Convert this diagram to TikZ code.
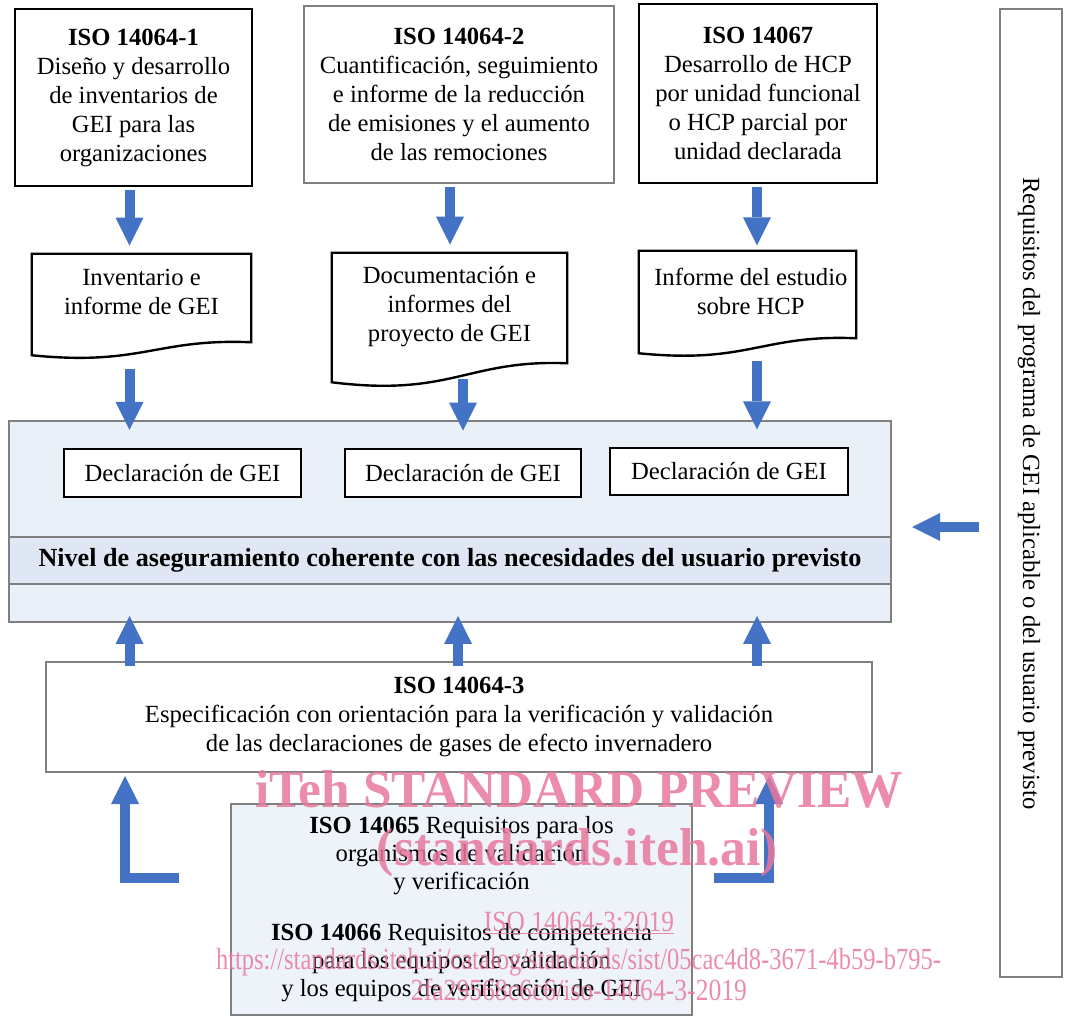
\documentclass[tikz,border=0pt]{standalone}
\usepackage{fontspec}
\setmainfont{Liberation Serif}
\usetikzlibrary{arrows.meta,calc}
\definecolor{arrowblue}{HTML}{4472C4}
\definecolor{boxgray}{HTML}{808080}
\definecolor{bigfill}{HTML}{E9F0F8}
\definecolor{bandfill}{HTML}{DEE7F3}
\definecolor{botfill}{HTML}{EEF3FA}
\definecolor{wmpink}{HTML}{E8789D}
\pgfdeclarelayer{background}
\pgfsetlayers{background,main}
\begin{document}
\begin{tikzpicture}[x=0.75pt,y=-0.75pt,
  font=\fontsize{18.5}{21.75}\selectfont,
  blackbox/.style={draw=black, line width=1.8pt, fill=white, align=center, inner sep=0pt},
  graybox/.style={draw=boxgray, line width=1.5pt, fill=white, align=center, inner sep=0pt},
  docbox/.style={align=center, inner sep=0pt},
  docline/.style={draw=black, line width=1.8pt, fill=white},
  blockarrow/.style={draw=arrowblue, line width=7.5pt, line join=miter,
    -{Triangle[width=21pt,length=21pt,line width=0pt]}},
  wm/.style={text=wmpink, opacity=0.85, inner sep=0pt},
]
\useasboundingbox (0,0) rectangle (1065,1023);

% ---- arrow x positions
\coordinate (xa) at (129.5,0);
\coordinate (xb) at (450,0);
\coordinate (xbb) at (463,0);
\coordinate (xbc) at (458,0);
\coordinate (xc) at (757,0);
\coordinate (ay) at (0,527);

% ---- top boxes
\node[blackbox, minimum width=237*0.75pt, minimum height=177*0.75pt] (b1) at (133.5,97.5)
  {\textbf{ISO 14064-1}\\Diseño y desarrollo\\de inventarios de\\GEI para las\\organizaciones};
\node[graybox, minimum width=310*0.75pt, minimum height=177*0.75pt] (b2) at (459,94.5)
  {\textbf{ISO 14064-2}\\Cuantificación, seguimiento\\e informe de la reducción\\de emisiones y el aumento\\de las remociones};
\node[blackbox, minimum width=238*0.75pt, minimum height=179*0.75pt] (b3) at (758,93.5)
  {\textbf{ISO 14067}\\Desarrollo de HCP\\por unidad funcional\\o HCP parcial por\\unidad declarada};

% ---- right tall box
\node[graybox, minimum width=62*0.75pt, minimum height=968*0.75pt] (rb) at (1031,493) {};
\node[rotate=-90, inner sep=0pt] (rbt) at (1029,493.5)
  {Requisitos del programa de GEI aplicable o del usuario previsto};

% ---- documents (text nodes; outlines drawn on background layer)
\node[docbox, minimum width=219*0.75pt, minimum height=75*0.75pt] (d1) at (141.5,291.5)
  {Inventario e\\informe de GEI};
\node[docbox, minimum width=235*0.75pt, minimum height=107*0.75pt] (d2) at (449.5,306.5)
  {Documentación e\\informes del\\proyecto de GEI};
\node[docbox, minimum width=217*0.75pt, minimum height=80*0.75pt] (d3) at (747.5,291)
  {\hspace*{5pt}Informe del estudio\\\hspace*{5pt}sobre HCP};
\begin{pgfonlayer}{background}
\path[docline] (d1.north west) -- (d1.north east) -- ($(d1.south east)+(0,13)$)
  .. controls ($(d1.south east)+(-95,9)$) and ($(d1.south west)+(110,37)$) .. ($(d1.south west)+(0,26)$) -- cycle;
\path[docline] (d2.north west) -- (d2.north east) -- ($(d2.south east)+(0,3)$)
  .. controls ($(d2.south east)+(-100,-1)$) and ($(d2.south west)+(120,37)$) .. ($(d2.south west)+(0,22)$) -- cycle;
\path[docline] (d3.north west) -- (d3.north east) -- ($(d3.south east)+(0,7)$)
  .. controls ($(d3.south east)+(-95,3)$) and ($(d3.south west)+(110,33)$) .. ($(d3.south west)+(0,22)$) -- cycle;
\end{pgfonlayer}

% ---- big box
\node[draw=boxgray, line width=1.5pt, fill=bigfill, minimum width=882*0.75pt, minimum height=201*0.75pt] (big) at (450,521.5) {};
\node[draw=boxgray, line width=1.5pt, fill=bandfill, minimum width=882*0.75pt, minimum height=47*0.75pt, font=\fontsize{19.6}{21.75}\selectfont\bfseries] (band) at (450,560.5)
  {Nivel de aseguramiento coherente con las necesidades del usuario previsto};
\node[blackbox, line width=1.6pt, minimum width=237*0.75pt, minimum height=48*0.75pt] (c1) at (182.5,473) {Declaración de GEI};
\node[blackbox, line width=1.6pt, minimum width=236*0.75pt, minimum height=48*0.75pt] (c2) at (463,473) {Declaración de GEI};
\node[blackbox, line width=1.6pt, minimum width=238*0.75pt, minimum height=47*0.75pt] (c3) at (729,471.5) {Declaración de GEI};

% ---- ISO 14064-3
\node[graybox, minimum width=826*0.75pt, minimum height=110*0.75pt] (b4) at (459,717)
  {\textbf{ISO 14064-3}\\Especificación con orientación para la verificación y validación\\de las declaraciones de gases de efecto invernadero};

% ---- bottom box
\node[draw=boxgray, line width=1.5pt, fill=botfill, align=center, inner sep=0pt,
  minimum width=461*0.75pt, minimum height=211*0.75pt, font=\fontsize{18.5}{21}\selectfont] (b5) at (461.5,909)
  {\textbf{ISO 14065} Requisitos para los\\organismos de validación\\y verificación\\[17pt]\textbf{ISO 14066} Requisitos de competencia\\para los equipos de validación\\y los equipos de verificación de GEI};

% ---- arrows: top boxes to documents
\draw[blockarrow, shorten <=2pt, shorten >=6pt] (b1.south -| xa) -- (d1.north -| xa);
\draw[blockarrow, shorten <=2pt, shorten >=6pt] (b2.south -| xb) -- (d2.north -| xb);
\draw[blockarrow, shorten <=2pt, shorten >=4pt] (b3.south -| xc) -- (d3.north -| xc);

% ---- documents to big box
\draw[blockarrow, shorten <=30pt, shorten >=-7.5pt] (d1.south -| xa) -- (big.north -| xa);
\draw[blockarrow, shorten <=14pt, shorten >=-8pt] (d2.south -| xbb) -- (big.north -| xbb);
\draw[blockarrow, shorten <=22pt, shorten >=-7pt] (d3.south -| xc) -- (big.north -| xc);

% ---- ISO 14064-3 up to big box
\draw[blockarrow, shorten <=-3.75pt, shorten >=-5.25pt] (b4.north -| xa) -- (big.south -| xa);
\draw[blockarrow, shorten <=-3.75pt, shorten >=-5.25pt] (b4.north -| xbc) -- (big.south -| xbc);
\draw[blockarrow, shorten <=-3.75pt, shorten >=-5.25pt] (b4.north -| xc) -- (big.south -| xc);

% ---- right box to big box
\draw[blockarrow, shorten <=15pt, shorten >=15pt] (rb.west |- ay) -- (big.east |- ay);

% ---- L arrows from bottom box up to ISO 14064-3
\coordinate (la) at (179,878);
\coordinate (lx) at (125,0);
\coordinate (ra) at (714,878);
\coordinate (rx) at (769,0);
\draw[blockarrow, shorten >=2.25pt] (la) -| (lx |- b4.south);
\draw[blockarrow, shorten >=2.25pt] (ra) -| (rx |- b4.south);

% ---- watermark
\node[wm, anchor=base, font=\fontsize{40}{40}\selectfont\bfseries] (w1) at (579,807)
  {\resizebox{486pt}{\height}{iTeh STANDARD PREVIEW}};
\node[wm, anchor=base, font=\fontsize{40}{40}\selectfont\bfseries] (w2) at (577.5,865)
  {\resizebox{300.75pt}{\height}{(standards.iteh.ai)}};
\node[wm, anchor=base, font=\fontsize{22}{22}\selectfont] (w3) at (579,931)
  {\resizebox{142.5pt}{\height}{\underline{ISO 14064-3:2019}}};
\node[wm, anchor=base, font=\fontsize{23}{23}\selectfont] (w4) at (578.5,969)
  {\resizebox{543.75pt}{\height}{https://standards.iteh.ai/catalog/standards/sist/05cac4d8-3671-4b59-b795-}};
\node[wm, anchor=base, font=\fontsize{23}{23}\selectfont] (w5) at (579,1000)
  {\resizebox{252pt}{\height}{2fa29568c6c6/iso-14064-3-2019}};
\end{tikzpicture}
\end{document}
